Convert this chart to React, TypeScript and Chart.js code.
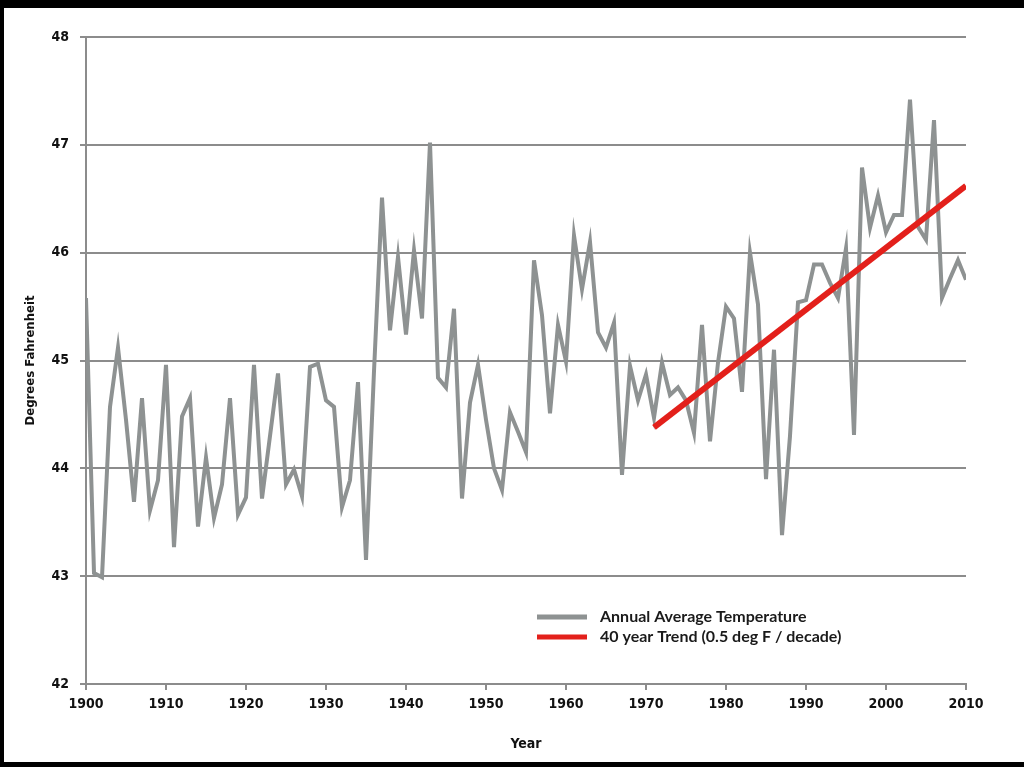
import React, { useEffect, useRef } from "react";
import { Chart, registerables } from "chart.js";

Chart.register(...registerables);

const startYear = 1900;
const years: number[] = Array.from({ length: 111 }, (_, i) => startYear + i);

const annualTemps: number[] = [
  45.58, 43.03, 42.99, 44.57, 45.12, 44.45, 43.69, 44.65, 43.61, 43.89,
  44.96, 43.27, 44.48, 44.65, 43.46, 44.10, 43.54, 43.85, 44.65, 43.57,
  43.73, 44.96, 43.72, 44.30, 44.88, 43.85, 43.99, 43.74, 44.94, 44.97,
  44.63, 44.57, 43.64, 43.89, 44.80, 43.15, 44.90, 46.51, 45.28, 45.96,
  45.24, 46.02, 45.39, 47.02, 44.84, 44.75, 45.48, 43.72, 44.61, 44.96,
  44.45, 44.00, 43.80, 44.52, 44.34, 44.15, 45.93, 45.42, 44.51, 45.33,
  44.99, 46.16, 45.66, 46.10, 45.26, 45.12, 45.35, 43.94, 44.95, 44.63,
  44.87, 44.47, 44.98, 44.68, 44.75, 44.63, 44.33, 45.33, 44.25, 44.98,
  45.50, 45.39, 44.71, 46.00, 45.52, 43.90, 45.10, 43.38, 44.30, 45.54,
  45.56, 45.89, 45.89, 45.72, 45.58, 46.04, 44.31, 46.79, 46.23, 46.53,
  46.19, 46.35, 46.35, 47.42, 46.24, 46.12, 47.23, 45.58, 45.76, 45.93,
  45.75,
];

const trendYears: number[] = [1971, 2010];
const trendValues: number[] = [44.38, 46.62];

const seriesLabels: string[] = [
  "Annual Average Temperature",
  "40 year Trend (0.5 deg F / decade)",
];

const xTitle = "Year";
const yTitle = "Degrees Fahrenheit";
const xMin = 1900;
const xMax = 2010;
const xStep = 10;
const yMin = 42;
const yMax = 48;
const yStep = 1;

const GRAY = "#8e9292";
const RED = "#e3201b";
const GRID = "#8c8c8c";
const TICK_FONT = "'Liberation Sans Narrow', 'DejaVu Sans Condensed', 'Liberation Sans', Arial, sans-serif";
const LEGEND_FONT = "Lato, 'Open Sans', 'Noto Sans', sans-serif";

const legendPlugin = {
  id: "customLegend",
  afterDraw(chart: any) {
    const ctx = chart.ctx;
    const x0 = 537;
    const y0 = 617;
    const rowH = 20;
    ctx.save();
    chart.data.datasets.forEach((ds: any, i: number) => {
      const y = y0 + i * rowH;
      ctx.strokeStyle = ds.borderColor;
      ctx.lineWidth = 5;
      ctx.lineCap = "butt";
      ctx.beginPath();
      ctx.moveTo(x0, y);
      ctx.lineTo(x0 + 50, y);
      ctx.stroke();
      ctx.fillStyle = "#1a1a1a";
      ctx.font = "bold 16px " + LEGEND_FONT;
      ctx.textBaseline = "middle";
      ctx.textAlign = "left";
      ctx.fillText(ds.label, x0 + 63, y);
    });
    ctx.restore();
  },
};

export default function App() {
  const ref = useRef<HTMLCanvasElement | null>(null);

  useEffect(() => {
    document.body.style.margin = "0";
    const canvas = ref.current;
    if (!canvas) return;
    const chart = new Chart(canvas, {
      type: "line",
      data: {
        datasets: [
          {
            label: seriesLabels[0],
            data: years.map((yr, i) => ({ x: yr, y: annualTemps[i] })),
            borderColor: GRAY,
            backgroundColor: GRAY,
            borderWidth: 4,
            pointRadius: 0,
            tension: 0,
            borderJoinStyle: "miter",
            order: 2,
          },
          {
            label: seriesLabels[1],
            data: trendYears.map((yr, i) => ({ x: yr, y: trendValues[i] })),
            borderColor: RED,
            backgroundColor: RED,
            borderWidth: 6,
            pointRadius: 0,
            tension: 0,
            order: 1,
          },
        ],
      },
      options: {
        animation: false,
        responsive: false,
        maintainAspectRatio: false,
        layout: { padding: { left: 14, top: 37, right: 58, bottom: 14 } },
        plugins: {
          legend: { display: false },
          tooltip: { enabled: false },
        },
        scales: {
          x: {
            type: "linear",
            min: xMin,
            max: xMax,
            afterFit: (scale: any) => {
              scale.height = 69;
            },
            ticks: {
              stepSize: xStep,
              color: "#111",
              padding: 6,
              maxRotation: 0,
              font: { family: TICK_FONT, size: 14, weight: "bold" },
              callback: (v: any) => String(v),
            },
            grid: {
              display: true,
              drawOnChartArea: false,
              drawTicks: true,
              tickLength: 6,
              color: GRID,
              lineWidth: 2,
            },
            border: { display: true, color: GRID, width: 2 },
            title: {
              display: true,
              text: xTitle,
              color: "#111",
              font: { family: TICK_FONT, size: 14, weight: "bold" },
              padding: { top: 6, bottom: 0 },
            },
          },
          y: {
            type: "linear",
            min: yMin,
            max: yMax,
            afterFit: (scale: any) => {
              scale.width = 72;
            },
            ticks: {
              stepSize: yStep,
              color: "#111",
              padding: 11,
              font: { family: TICK_FONT, size: 14, weight: "bold" },
            },
            grid: {
              color: GRID,
              lineWidth: 2,
              drawTicks: true,
              tickLength: 6,
            },
            border: { display: true, color: GRID, width: 2 },
            title: {
              display: true,
              text: yTitle,
              color: "#111",
              font: { family: TICK_FONT, size: 13, weight: "bold" },
              padding: { top: 9, bottom: 4 },
            },
          },
        },
      },
      plugins: [legendPlugin],
    } as any);
    return () => chart.destroy();
  }, []);

  return (
    <div style={{ position: "relative", width: 1024, height: 767, background: "#000", overflow: "hidden" }}>
      <div style={{ position: "absolute", left: 4, top: 8, width: 1020, height: 754, background: "#fff" }} />
      <canvas
        ref={ref}
        width={1024}
        height={767}
        style={{ position: "absolute", left: 0, top: 0, width: 1024, height: 767 }}
      />
    </div>
  );
}
